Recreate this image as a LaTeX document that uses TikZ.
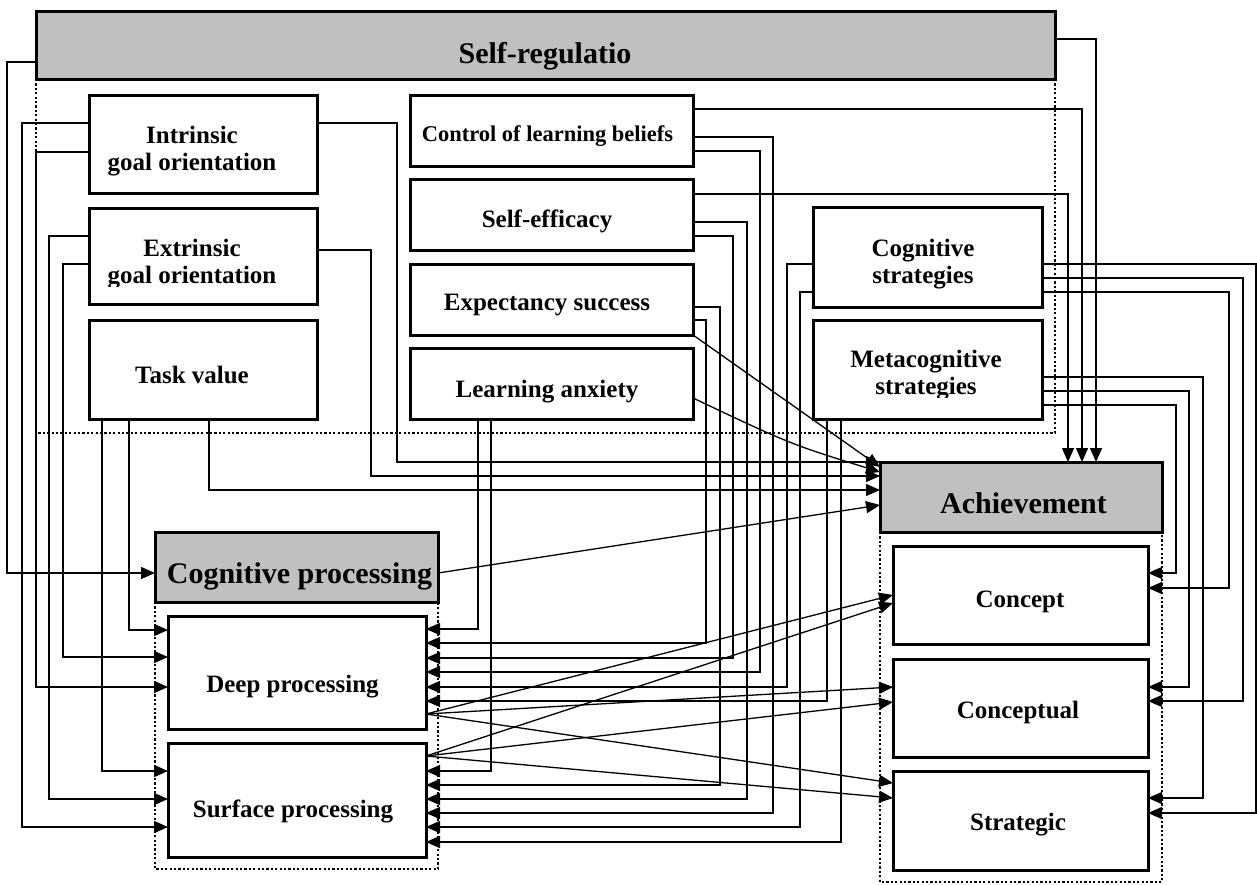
\documentclass[tikz,border=0pt]{standalone}
\usepackage{fontspec}
\setmainfont{Liberation Serif}
\usetikzlibrary{arrows.meta}
\definecolor{headgray}{RGB}{192,192,192}
\begin{document}
\begin{tikzpicture}[x=1pt,y=-1pt,
  box/.style={draw, line width=3pt, fill=white, inner sep=0pt, outer sep=0pt},
  head/.style={box, fill=headgray},
  lbl/.style={font=\fontsize{25}{27}\selectfont\bfseries, inner sep=0pt, anchor=base, align=center},
  small/.style={lbl, font=\fontsize{22.5}{27}\selectfont\bfseries},
  big/.style={lbl, font=\fontsize{30}{32}\selectfont\bfseries},
  conn/.style={line width=1.3pt},
  arr/.style={conn, -{Triangle[length=14pt,width=12pt]}},
  group/.style={line width=2.3pt, dash pattern=on 2.2pt off 2.2pt}
]
\useasboundingbox (0,0) rectangle (1257,884);

% ---------- boxes ----------
\node[head, minimum width=1019pt, minimum height=68pt] (sr) at (545.5,45) {};
\node[box, minimum width=228pt, minimum height=98pt] (intr) at (203,144) {};
\node[box, minimum width=228pt, minimum height=96pt] (extr) at (203,256) {};
\node[box, minimum width=228pt, minimum height=99pt] (tv) at (203,369.5) {};
\node[box, minimum width=283pt, minimum height=71pt] (clb) at (551.5,130.5) {};
\node[box, minimum width=283pt, minimum height=71pt] (se) at (551.5,214.5) {};
\node[box, minimum width=283pt, minimum height=71pt] (es) at (551.5,299.5) {};
\node[box, minimum width=283pt, minimum height=71pt] (la) at (551.5,383.5) {};
\node[box, minimum width=229pt, minimum height=100pt] (cs) at (927.5,257) {};
\node[box, minimum width=229pt, minimum height=99pt] (ms) at (927.5,369.5) {};

\node[head, minimum width=283pt, minimum height=70pt] (cp) at (296.5,567) {};
\node[box, minimum width=258pt, minimum height=113pt] (deep) at (297,672.5) {};
\node[box, minimum width=258pt, minimum height=114pt] (surf) at (297,800) {};

\node[head, minimum width=282pt, minimum height=70pt] (ach) at (1021,497) {};
\node[box, minimum width=255pt, minimum height=98pt] (concept) at (1020.5,595) {};
\node[box, minimum width=255pt, minimum height=98pt] (concl) at (1020.5,708) {};
\node[box, minimum width=255pt, minimum height=99pt] (strat) at (1020.5,820.5) {};

% ---------- dotted group frames ----------
\draw[group] (sr.south west) -- (sr.south west |- 0,433) -| (sr.south east);
\draw[group] (cp.south west) -- (cp.south west |- 0,869) -| (cp.south east);
\draw[group] (ach.south west) -- (ach.south west |- 0,882) -| (ach.south east);

% ---------- labels (base anchor = baseline of the last line) ----------
\node[big] at (545,63) {Self-regulatio};
\node[lbl] at (192,170) {Intrinsic\\goal orientation};
\begin{scope}
  \clip (extr.north west) rectangle (extr.east |- 0,286);
  \node[lbl] at (192,283) {Extrinsic\\goal orientation};
\end{scope}
\node[lbl] at (192,383) {Task value};
\node[small] at (547.5,141) {Control of learning beliefs};
\node[lbl] at (547,227) {Self-efficacy};
\node[lbl] at (547,310) {Expectancy success};
\node[lbl] at (547,397) {Learning anxiety};
\node[lbl] at (923,283) {Cognitive\\strategies};
\begin{scope}
  \clip (ms.north west) rectangle (ms.east |- 0,397);
  \node[lbl] at (926,394) {Metacognitive\\strategies};
\end{scope}
\node[big] at (1023.5,513) {Achievement};
\node[big] at (299.5,583) {Cognitive processing};
\node[lbl] at (292.5,692) {Deep processing};
\node[lbl] at (293,817) {Surface processing};
\node[lbl] at (1020,607) {Concept};
\node[lbl] at (1018,718) {Conceptual};
\node[lbl] at (1018,830) {Strategic};

% ---------- self-regulation ----------
\draw[arr] (sr.west |- 0,62) -| (7,573) -- (cp.west |- 0,573);
\draw[arr] (sr.east |- 0,39) -| (1096,0 |- ach.north);

% ---------- control of learning beliefs ----------
\draw[arr] (clb.east |- 0,109) -| (1082,0 |- ach.north);
\draw[arr] (clb.east |- 0,137) -| (773,813) -- (surf.east |- 0,813);
\draw[arr] (clb.east |- 0,151) -| (760,672) -- (deep.east |- 0,672);

% ---------- self-efficacy ----------
\draw[arr] (se.east |- 0,194) -| (1068,0 |- ach.north);
\draw[arr] (se.east |- 0,222) -| (747,799) -- (surf.east |- 0,799);
\draw[arr] (se.east |- 0,236) -| (733,658) -- (deep.east |- 0,658);

% ---------- expectancy success ----------
\draw[arr] (es.east |- 0,307) -| (720,785) -- (surf.east |- 0,785);
\draw[arr] (es.east |- 0,320) -| (706,643) -- (deep.east |- 0,643);
\draw[arr] (es.south east) -- (ach.west |- 0,467);

% ---------- learning anxiety ----------
\draw[arr] (la.east |- 0,398) .. controls (790,444) .. (ach.west |- 0,472);
\draw[arr] (478,0 |- la.south) |- (deep.east |- 0,629);
\draw[arr] (491,0 |- la.south) |- (surf.east |- 0,771);

% ---------- cognitive strategies ----------
\draw[arr] (cs.west |- 0,264) -| (787,687) -- (deep.east |- 0,687);
\draw[arr] (cs.west |- 0,292) -| (800,827) -- (surf.east |- 0,827);
\draw[arr] (cs.east |- 0,264) -| (1256,813) -- (strat.east |- 0,813);
\draw[arr] (cs.east |- 0,278) -| (1243,701) -- (concl.east |- 0,701);
\draw[arr] (cs.east |- 0,292) -| (1229,588) -- (concept.east |- 0,588);

% ---------- metacognitive strategies ----------
\draw[arr] (827,0 |- ms.south) |- (deep.east |- 0,701);
\draw[arr] (841,0 |- ms.south) |- (surf.east |- 0,842);
\draw[arr] (ms.east |- 0,377) -| (1203,798) -- (strat.east |- 0,798);
\draw[arr] (ms.east |- 0,391) -| (1189,687) -- (concl.east |- 0,687);
\draw[arr] (ms.east |- 0,405) -| (1176,573) -- (concept.east |- 0,573);

% ---------- intrinsic goal orientation ----------
\draw[arr] (intr.west |- 0,123) -| (22,827) -- (surf.west |- 0,827);
\draw[arr] (intr.west |- 0,152) -| (36,687) -- (deep.west |- 0,687);
\draw[arr] (intr.east |- 0,123) -| (397,462) -- (ach.west |- 0,462);

% ---------- extrinsic goal orientation ----------
\draw[arr] (extr.west |- 0,236) -| (49,799) -- (surf.west |- 0,799);
\draw[arr] (extr.west |- 0,264) -| (63,657) -- (deep.west |- 0,657);
\draw[arr] (extr.east |- 0,250) -| (371,476) -- (ach.west |- 0,476);

% ---------- task value ----------
\draw[arr] (102,0 |- tv.south) |- (surf.west |- 0,771);
\draw[arr] (129,0 |- tv.south) |- (deep.west |- 0,630);
\draw[arr] (209,0 |- tv.south) |- (ach.west |- 0,490);

% ---------- cognitive processing ----------
\draw[arr] (cp.east |- 0,573) -- (ach.west |- 0,505);
\draw[arr] (deep.east |- 0,714) -- (concept.west |- 0,595);
\draw[arr] (surf.east |- 0,756) -- (concept.west |- 0,603);
\draw[arr] (deep.east |- 0,714) -- (concl.west |- 0,687);
\draw[arr] (surf.east |- 0,756) -- (concl.west |- 0,702);
\draw[arr] (deep.east |- 0,714) -- (strat.west |- 0,783);
\draw[arr] (surf.east |- 0,756) -- (strat.west |- 0,798);
\end{tikzpicture}
\end{document}
